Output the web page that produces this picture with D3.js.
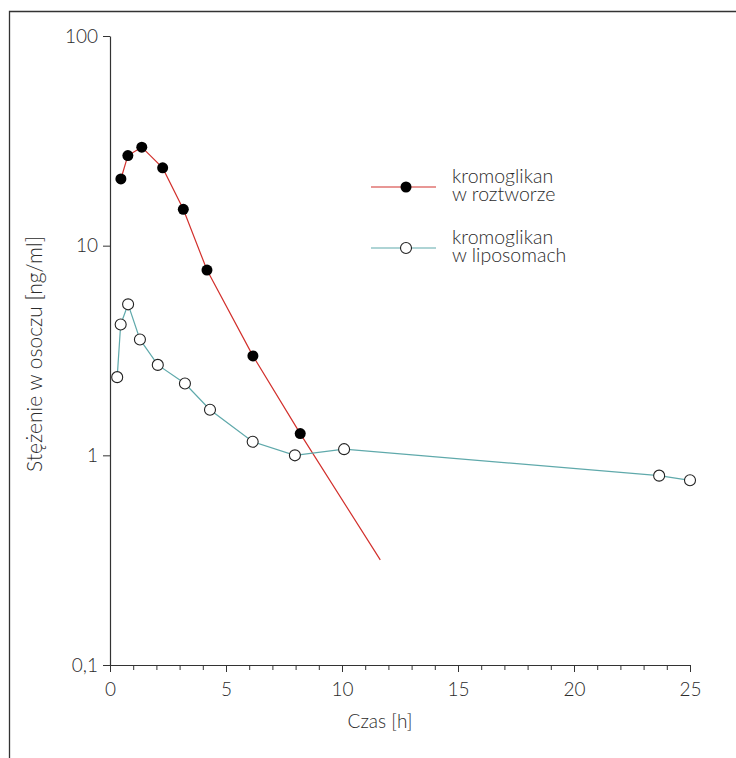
<!DOCTYPE html>
<html>
<head>
<meta charset="utf-8">
<script src="https://cdn.jsdelivr.net/npm/d3@7"></script>
<style>
body { margin: 0; background: #fff; }
svg text { font-family: Lato, sans-serif; font-weight: 300; fill: #2b2b2b; }
</style>
</head>
<body>
<script>
// kromoglikan w roztworze (filled dots)
var solTime = [0.47, 0.77, 1.37, 2.27, 3.16, 4.18, 6.16, 8.2];
var solConc = [20.8, 26.9, 29.5, 23.5, 14.9, 7.65, 2.98, 1.27];
// straight fit continued past the last measurement, line only
var solTailTime = 11.65;
var solTailConc = 0.317;

// kromoglikan w liposomach (open circles)
var lipTime = [0.31, 0.46, 0.78, 1.29, 2.06, 3.23, 4.31, 6.15, 7.97, 10.09, 23.67, 25.0];
var lipConc = [2.36, 4.21, 5.25, 3.57, 2.70, 2.20, 1.65, 1.16, 1.00, 1.07, 0.80, 0.76];

var xTicks = [0, 5, 10, 15, 20, 25];
var xMinor = d3.range(0, 26, 1);
var yTicks = [0.1, 1, 10, 100];
var yTickLabels = ["0,1", "1", "10", "100"];

var width = 736, height = 758;
var plotL = 110, plotR = 690, plotT = 36, plotB = 665;

var svg = d3.select("body").append("svg")
	.attr("width", width)
	.attr("height", height);

// frame lines of the figure
svg.append("path")
	.attr("d", "M9.5," + height + " V11.5 H" + width)
	.attr("fill", "none")
	.attr("stroke", "#333")
	.attr("stroke-width", 1.3);

var x = d3.scaleLinear().domain([0, 25]).range([plotL, plotR]);
var y = d3.scaleLog().domain([0.1, 100]).range([plotB, plotT]);

// x axis, minor ticks first
svg.append("g")
	.attr("transform", "translate(0," + plotB + ")")
	.call(d3.axisBottom(x).tickValues(xMinor).tickSize(5).tickFormat(""))
	.call(function(g){ g.select(".domain").remove(); })
	.selectAll("line").attr("stroke", "#333");

var xAxis = svg.append("g")
	.attr("transform", "translate(0," + plotB + ")")
	.call(d3.axisBottom(x).tickValues(xTicks).tickSize(7).tickSizeOuter(0).tickPadding(11).tickFormat(d3.format("d")));
xAxis.select(".domain").attr("stroke", "#333").attr("stroke-width", 1.2);
xAxis.selectAll("line").attr("stroke", "#333");

var yAxis = svg.append("g")
	.attr("transform", "translate(" + plotL + ",0)")
	.call(d3.axisLeft(y).tickValues(yTicks).tickSize(7).tickSizeOuter(0).tickPadding(5)
		.tickFormat(function(d, i){ return yTickLabels[i]; }));
yAxis.select(".domain").attr("stroke", "#333").attr("stroke-width", 1.2);
yAxis.selectAll("line").attr("stroke", "#333");

svg.selectAll(".tick text").attr("fill", null).style("font-size", "19px");
svg.selectAll("g").attr("font-family", null);

// axis titles
svg.append("text")
	.attr("x", 380)
	.attr("y", 728)
	.attr("text-anchor", "middle")
	.style("font-size", "19px")
	.text("Czas [h]");

svg.append("text")
	.attr("transform", "translate(42,354) rotate(-90)")
	.attr("text-anchor", "middle")
	.style("font-size", "21px")
	.text("Stężenie w osoczu [ng/ml]");

var line = d3.line()
	.x(function(d){ return x(d[0]); })
	.y(function(d){ return y(d[1]); });

var solPts = d3.zip(solTime, solConc);
var lipPts = d3.zip(lipTime, lipConc);

var red = "#d2302c", teal = "#5fa9ab";

svg.append("path")
	.datum(solPts.concat([[solTailTime, solTailConc]]))
	.attr("d", line)
	.attr("fill", "none")
	.attr("stroke", red)
	.attr("stroke-width", 1.2);

svg.append("path")
	.datum(lipPts)
	.attr("d", line)
	.attr("fill", "none")
	.attr("stroke", teal)
	.attr("stroke-width", 1.2);

svg.selectAll("circle.sol")
	.data(solPts)
	.enter()
	.append("circle")
	.attr("class", "sol")
	.attr("cx", function(d){ return x(d[0]); })
	.attr("cy", function(d){ return y(d[1]); })
	.attr("r", 5.5)
	.attr("fill", "#000");

svg.selectAll("circle.lip")
	.data(lipPts)
	.enter()
	.append("circle")
	.attr("class", "lip")
	.attr("cx", function(d){ return x(d[0]); })
	.attr("cy", function(d){ return y(d[1]); })
	.attr("r", 5.5)
	.attr("fill", "#fff")
	.attr("stroke", "#222")
	.attr("stroke-width", 1.1);

// legend
var legend = [
	{ lines: ["kromoglikan", "w roztworze"], color: red, fill: "#000", stroke: "none", y: 187 },
	{ lines: ["kromoglikan", "w liposomach"], color: teal, fill: "#fff", stroke: "#222", y: 248 }
];
var lg = svg.selectAll("g.legend")
	.data(legend)
	.enter()
	.append("g")
	.attr("class", "legend")
	.attr("transform", function(d){ return "translate(0," + d.y + ")"; });
lg.append("line")
	.attr("x1", 371).attr("x2", 436)
	.attr("stroke", function(d){ return d.color; })
	.attr("stroke-width", 1.2);
lg.append("circle")
	.attr("cx", 406).attr("r", 5.5)
	.attr("fill", function(d){ return d.fill; })
	.attr("stroke", function(d){ return d.stroke; })
	.attr("stroke-width", 1.1);
lg.append("text")
	.attr("x", 452)
	.attr("y", -4)
	.style("font-size", "19.5px")
	.text(function(d){ return d.lines[0]; });
lg.append("text")
	.attr("x", 452)
	.attr("y", 14)
	.style("font-size", "19.5px")
	.text(function(d){ return d.lines[1]; });
</script>
</body>
</html>
